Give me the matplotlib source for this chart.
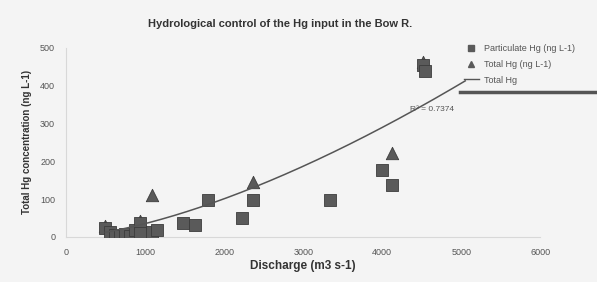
import matplotlib
matplotlib.use("Agg")
import matplotlib.pyplot as plt
from matplotlib.lines import Line2D
import numpy as np

plt.rcParams["font.family"] = ["Liberation Sans", "DejaVu Sans"]

# particulate Hg (squares)
part_q = [494, 557, 620, 684, 747, 810, 873, 937, 937, 1089, 1152, 1481, 1633,
          1797, 2228, 2367, 3342, 4000, 4127, 4519, 4545]
part_hg = [24, 13, 5, 3, 8, 3, 19, 37, 11, 13, 19, 37, 32,
           98, 50, 98, 98, 177, 138, 455, 440]

# total Hg (triangles)
tot_q = [494, 937, 1089, 2367, 4127, 4519]
tot_hg = [29, 42, 111, 146, 222, 463]

# power trend on total Hg: y = a * x^b
trend_a = 0.00097
trend_b = 1.52
r2_text = "R² = 0.7374"

x_ticks = [0, 1000, 2000, 3000, 4000, 5000, 6000]
y_ticks = [0, 100, 200, 300, 400, 500]

bg = "#f4f4f4"
fig = plt.figure(figsize=(5.97, 2.82), dpi=100, facecolor=bg)
ax = fig.add_axes([0.111, 0.16, 0.794, 0.67], facecolor=bg)

ax.scatter(tot_q, tot_hg, marker="^", s=80, color="#5a5a5a", edgecolor="#3c3c3c",
           linewidth=0.6, zorder=3, label="Total Hg (ng L-1)")
ax.scatter(part_q, part_hg, marker="s", s=75, color="#5a5a5a", edgecolor="#3c3c3c",
           linewidth=0.6, zorder=4, label="Particulate Hg (ng L-1)")

xs = np.linspace(min(part_q + tot_q), 5050, 200)
ax.plot(xs, trend_a * xs ** trend_b, color="#555555", lw=1.1, zorder=5, label="Total Hg")
ax.text(4350, 336, r2_text, fontsize=6, color="#555555", va="center")

ax.set_xlim(0, 6000)
ax.set_ylim(0, 500)
ax.set_xticks(x_ticks)
ax.set_yticks(y_ticks)
ax.tick_params(labelsize=6.5, colors="#555555", length=0, pad=8)
for s in ["top", "right"]:
    ax.spines[s].set_visible(False)
for s in ["left", "bottom"]:
    ax.spines[s].set_color("#d8d8d8")
    ax.spines[s].set_linewidth(0.8)

ax.set_xlabel("Discharge (m3 s-1)", fontsize=8.5, fontweight="bold", color="#333333", labelpad=2)
ax.set_ylabel("Total Hg concentration (ng L-1)", fontsize=7, fontweight="bold",
              color="#333333", labelpad=6)
fig.text(0.47, 0.905, "Hydrological control of the Hg input in the Bow R.",
         fontsize=8, fontweight="bold", color="#333333", ha="center")

handles = [
    Line2D([], [], marker="s", ls="", color="#5a5a5a", markersize=4),
    Line2D([], [], marker="^", ls="", color="#5a5a5a", markersize=4),
    Line2D([], [], color="#555555", lw=1),
]
labels = ["Particulate Hg (ng L-1)", "Total Hg (ng L-1)", "Total Hg"]
fig.legend(handles, labels, loc="upper left", bbox_to_anchor=(0.77, 0.86),
           fontsize=6.5, frameon=False, handlelength=1.6, handletextpad=0.6,
           labelspacing=0.75, labelcolor="#555555", borderpad=0)
fig.add_artist(Line2D([0.77, 1.0], [0.672, 0.672], color="#555555", lw=2.5))

fig.savefig("out.png", dpi=100, facecolor=bg)
